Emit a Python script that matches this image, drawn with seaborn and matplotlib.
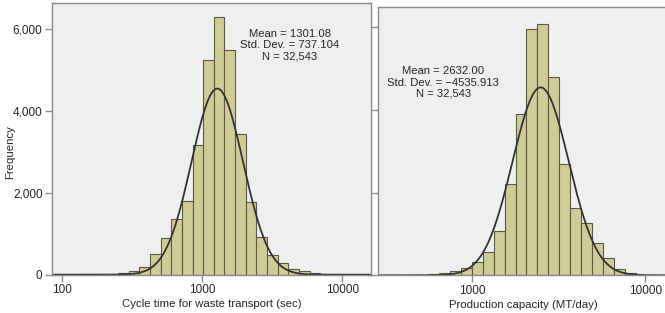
import numpy as np
import seaborn as sns
import matplotlib.pyplot as plt
from matplotlib.ticker import FixedLocator, NullLocator, FuncFormatter

# histogram counts per bin (bins equal width in log10 units)
cycle_counts = [30, 100, 200, 500, 900, 1350, 1790, 3170, 5260, 6290,
                5490, 3450, 1780, 920, 490, 285, 140, 90, 50, 20]
cycle_bin_range = (2.398, 3.919)  # log10(sec)
cycle_stats = "Mean = 1301.08\nStd. Dev. = 737.104\nN = 32,543"
cycle_curve = (4550, 3.107, 0.184)  # peak, centre (log10), sd (log10)

capacity_counts = [20, 50, 110, 170, 330, 570, 1070, 2200, 3890, 5940,
                   6060, 4800, 2690, 1625, 1255, 770, 425, 160, 50]
capacity_bin_range = (2.746, 3.945)  # log10(MT/day)
capacity_stats = "Mean = 2632.00\nStd. Dev. = \u22124535.913\nN = 32,543"
capacity_curve = (4540, 3.396, 0.162)

x_ticks = [100, 1000, 10000]
y_ticks = [0, 2000, 4000, 6000]

BAR = "#d0cc97"
EDGE = "#5a5a46"
FACE = "#efefef"
SPINE = "#8c8c8c"

sns.set_style("white")
plt.rcParams["font.family"] = ["Liberation Sans", "DejaVu Sans"]


def draw_panel(ax, counts, bin_range, curve, xlim, ylim, stats, stats_xy, xlabel):
    n = len(counts)
    w = (bin_range[1] - bin_range[0]) / n
    centers = 10 ** (bin_range[0] + w * (np.arange(n) + 0.5))
    sns.histplot(x=centers, weights=counts, bins=n, binrange=bin_range,
                 log_scale=True, color=BAR, edgecolor=EDGE, linewidth=0.8,
                 alpha=1, ax=ax)
    peak, mu, sd = curve
    lx = np.linspace(np.log10(xlim[0]), np.log10(xlim[1]), 400)
    sns.lineplot(x=10 ** lx, y=peak * np.exp(-0.5 * ((lx - mu) / sd) ** 2),
                 color="#333333", linewidth=1.3, ax=ax)
    ax.set_xlim(*xlim)
    ax.set_ylim(*ylim)
    ax.set_facecolor(FACE)
    ax.xaxis.set_major_locator(FixedLocator(x_ticks))
    ax.xaxis.set_minor_locator(NullLocator())
    ax.xaxis.set_major_formatter(FuncFormatter(lambda v, p: f"{v:.0f}"))
    ax.yaxis.set_major_locator(FixedLocator(y_ticks))
    ax.tick_params(axis="both", direction="out", length=5, width=1,
                   color=SPINE, labelsize=8.5, pad=2, bottom=True, left=True)
    for s in ax.spines.values():
        s.set_color(SPINE)
        s.set_linewidth(1)
    ax.set_xlabel(xlabel, fontsize=8.2, labelpad=2)
    ax.text(*stats_xy, stats, transform=ax.transAxes, ha="center", va="top",
            fontsize=8.1, linespacing=1.15)


fig = plt.figure(figsize=(6.65, 3.13), dpi=100)
ax1 = fig.add_axes([0.0787, 0.1224, 0.4788, 0.868])
ax2 = fig.add_axes([0.5689, 0.1204, 0.4356, 0.856])

draw_panel(ax1, cycle_counts, cycle_bin_range, cycle_curve,
           (10 ** 1.929, 10 ** 4.203), (0, 6643), cycle_stats, (0.745, 0.905),
           "Cycle time for waste transport (sec)")
ax1.yaxis.set_major_formatter(FuncFormatter(lambda v, p: f"{v:,.0f}"))
ax1.set_ylabel("Frequency", fontsize=8.2)
ax1.yaxis.set_label_coords(-0.118, 0.45)

draw_panel(ax2, capacity_counts, capacity_bin_range, capacity_curve,
           (10 ** 2.459, 10 ** 4.131), (0, 6473), capacity_stats, (0.224, 0.78),
           "Production capacity (MT/day)")
ax2.set_yticklabels([])
ax2.set_ylabel("")

fig.savefig("out.png", dpi=100)
